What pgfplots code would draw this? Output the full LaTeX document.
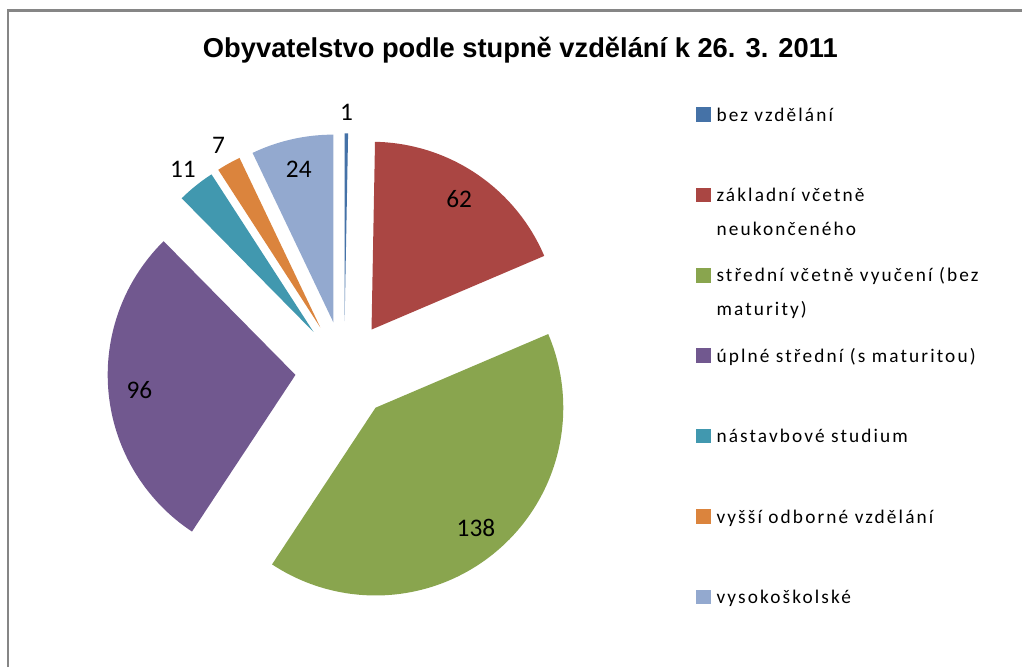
\documentclass[border=0pt]{standalone}
\usepackage{pgfplots}
\usepackage{pgfplotstable}
\pgfplotsset{compat=1.18}
\usepackage{fontspec}
\setmainfont{Carlito}
\newfontfamily\titlefont{Liberation Sans}
\newfontfamily\legfont[LetterSpace=11]{Carlito}

\definecolor{slice0}{HTML}{4572A7}
\definecolor{slice1}{HTML}{AA4643}
\definecolor{slice2}{HTML}{89A54E}
\definecolor{slice3}{HTML}{71588F}
\definecolor{slice4}{HTML}{4198AF}
\definecolor{slice5}{HTML}{DB843D}
\definecolor{slice6}{HTML}{93A9CF}
\definecolor{framegray}{HTML}{868686}
\tikzset{lbl/.style={font=\fontsize{19}{22}\selectfont, text=black}}
% legend entry: two lines, baseline on the first one
\newcommand\lentry[2]{\vtop{\hbox{#1}\hbox{#2}}}

% pocet obyvatel podle vzdelani (v poradi od 12 hodin po smeru hodin)
\pgfplotstableread{
v
1
62
138
96
11
7
24
}\piedata

\begin{document}
\begin{tikzpicture}
% px units: 1 px = 0.75 pt
\begin{axis}[scale only axis, width=767.25pt, height=501pt,
  xmin=0, xmax=1023, ymin=0, ymax=668, hide axis, clip=false,
  legend entries={\lentry{bez vzdělání}{}, \lentry{základní včetně}{neukončeného},
    \lentry{střední včetně vyučení (bez}{maturity)}, \lentry{úplné střední (s maturitou)}{},
    \lentry{nástavbové studium}{}, \lentry{vyšší odborné vzdělání}{}, \lentry{vysokoškolské}{}},
  legend image code/.code={\fill[#1] (0pt,-0.5pt) rectangle (11.25pt,10.5pt);},
  legend style={at={(0.6814,0.8469)}, anchor=north west, draw=none, fill=none,
    inner sep=0pt, row sep=0pt, column sep=3.8pt,
    font={\legfont\fontsize{14.5}{25.5}\selectfont},
    cells={anchor=base west},
    nodes={inner sep=0pt, text height=14pt, text depth=46.4pt}}]
\path (axis cs:0,0) rectangle (axis cs:1023,668);
\pgfmathsetmacro\total{0}
\pgfplotsinvokeforeach{0,...,6}{
  \pgfplotstablegetelem{#1}{v}\of\piedata
  \pgfmathsetmacro\tot{\total+\pgfplotsretval}
  \xdef\total{\tot}
}
\xdef\cum{0}
\pgfplotsinvokeforeach{0,...,6}{
  \pgfplotstablegetelem{#1}{v}\of\piedata
  \edef\sv{\pgfplotsretval}
  \pgfmathsetmacro\angA{90-\cum/\total*360}
  \pgfmathsetmacro\angB{90-(\cum+\sv)/\total*360}
  \pgfmathsetmacro\angM{(\angA+\angB)/2}
  \pgfmathsetmacro\tx{344.6+49*cos(\angM)}
  \pgfmathsetmacro\ty{297.4+49*sin(\angM)}
  \pgfmathsetmacro\rl{\sv<15 ? 209 : 157}
  \pgfmathsetmacro\lx{\tx+\rl*cos(\angM)}
  \pgfmathsetmacro\ly{\ty+\rl*sin(\angM)}
  \edef\temp{\noexpand\addplot[draw=none, fill=slice#1, domain=\angB:\angA, samples=90]
      ({\tx+188*cos(x)}, {\ty+188*sin(x)}) -- (axis cs:\tx,\ty) -- cycle;
    \noexpand\node[lbl] at (axis cs:\lx,\ly) {\sv};}
  \temp
  \pgfmathsetmacro\cc{\cum+\sv}
  \xdef\cum{\cc}
}
% ramecek grafu
\draw[framegray, line width=1.9pt] (axis cs:8,0) -- (axis cs:8,657.3) -- (axis cs:1023,657.3);
\node[font={\titlefont\bfseries\fontsize{20.5}{24}\selectfont}, anchor=base]
  at (axis cs:521,610) {Obyvatelstvo podle stupně vzdělání k 26. 3. 2011};
\end{axis}
\end{tikzpicture}
\end{document}
